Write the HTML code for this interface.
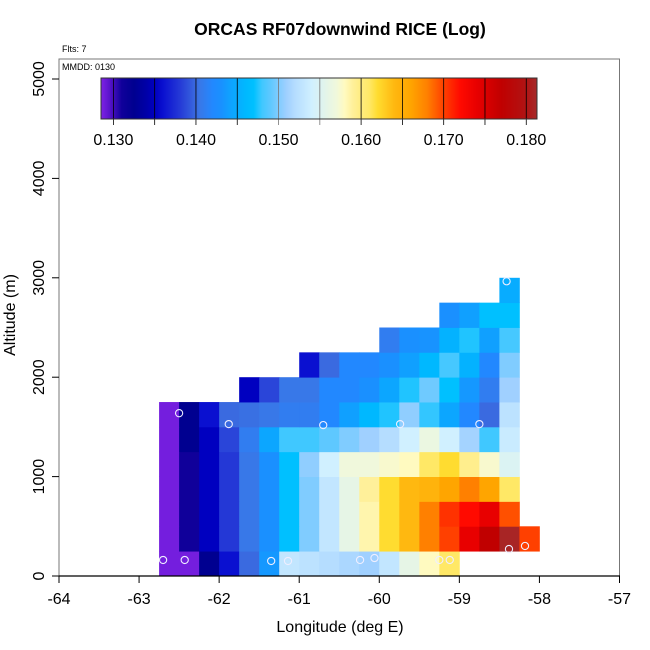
<!DOCTYPE html>
<html><head><meta charset="utf-8"><style>
html,body{margin:0;padding:0;background:#fff;}
svg{display:block;font-family:"Liberation Sans",sans-serif;}
</style></head><body>
<svg id="chart" width="650" height="650" viewBox="0 0 650 650" xmlns="http://www.w3.org/2000/svg">
<rect x="0" y="0" width="650" height="650" fill="#fff"/>
<text x="340" y="35" text-anchor="middle" font-size="17.5" font-weight="bold">ORCAS RF07downwind RICE (Log)</text>
<text x="62" y="52" font-size="9">Flts: 7</text>
<g id="cells"></g>
<g id="pts"></g>
<rect x="59" y="59" width="560.5" height="517" fill="none" stroke="#777" stroke-width="1"/>
<line x1="59" y1="576" x2="620" y2="576" stroke="#000" stroke-width="1.2"/>
<text x="62" y="70" font-size="9">MMDD: 0130</text>
<g id="cbar"></g>
<g id="xaxis"></g>
<g id="yaxis"></g>
<text x="340" y="632" text-anchor="middle" font-size="16">Longitude (deg E)</text>
<text transform="translate(15,315) rotate(-90)" text-anchor="middle" font-size="16">Altitude (m)</text>
</svg>
<script>
const lonStart = -62.75, lonStep = 0.25, altStep = 250;
const row0 = [0.1288,0.1288,0.1325,0.136,0.140,0.1435,0.153,0.1525,0.152,0.1515,0.151,0.153,0.156,0.158,0.161,null,null,null,null];
const row1 = [0.1288,0.131,0.135,0.138,0.1405,0.143,0.147,0.150,0.153,0.156,0.1585,0.162,0.164,0.168,0.170,0.174,0.177,0.181,0.170];
const row2 = [0.1288,0.131,0.135,0.138,0.1405,0.143,0.147,0.150,0.153,0.156,0.1585,0.162,0.164,0.168,0.1705,0.172,0.174,0.1695,null];
const row3 = [0.1288,0.131,0.135,0.138,0.1405,0.143,0.147,0.150,0.153,0.156,0.159,0.162,0.164,0.1645,0.166,0.168,0.166,0.161,null];
const row4 = [0.1288,0.131,0.135,0.138,0.1405,0.143,0.147,0.1505,0.154,0.157,0.157,0.1575,0.158,0.161,0.162,0.1595,0.1575,0.155,null];
const row5 = [0.1288,0.1325,0.135,0.1385,0.141,0.1445,0.148,0.148,0.149,0.150,0.151,0.152,0.154,0.1565,0.154,0.1512,0.148,0.1535,null];
const row6 = [0.1288,0.1325,0.136,0.140,0.1402,0.1405,0.141,0.141,0.142,0.144,0.146,0.1475,0.1505,0.1478,0.1445,0.142,0.140,0.1525,null];
const row7 = [null,null,null,null,0.135,0.1385,0.1405,0.1405,0.142,0.142,0.143,0.1445,0.1475,0.1495,0.147,0.1435,0.141,0.151,null];
const row8 = [null,null,null,null,null,null,null,0.136,0.140,0.142,0.142,0.143,0.144,0.146,0.1482,0.1455,0.142,0.150,null];
const row9 = [null,null,null,null,null,null,null,null,null,null,null,0.141,0.143,0.1432,0.1455,0.1475,0.144,0.1482,null];
const row10 = [null,null,null,null,null,null,null,null,null,null,null,null,null,null,0.143,0.144,0.147,0.147,null];
const row11 = [null,null,null,null,null,null,null,null,null,null,null,null,null,null,null,null,null,0.145,null];
const rows = [row0,row1,row2,row3,row4,row5,row6,row7,row8,row9,row10,row11];
const ptLon = [-62.70,-62.43,-62.50,-61.88,-61.35,-61.14,-60.70,-60.24,-60.06,-59.74,-59.25,-59.12,-58.75,-58.41,-58.38,-58.18];
const ptAlt = [161,161,1638,1528,151,151,1518,161,181,1528,161,161,1528,2965,271,302];
const xTicks = [-64,-63,-62,-61,-60,-59,-58,-57];
const yTicks = [0,1000,2000,3000,4000,5000];
const cbTicks = [0.130,0.140,0.150,0.160,0.170,0.180];
const cbLabels = ["0.130","0.140","0.150","0.160","0.170","0.180"];
const cbLines = [0.130,0.135,0.140,0.145,0.150,0.155,0.160,0.165,0.170,0.175,0.180];
const cbMin = 0.1285, cbMax = 0.1813;
const stopV = [0.1285,0.1295,0.131,0.1325,0.134,0.135,0.136,0.138,0.140,0.1405,0.142,0.143,0.144,0.146,0.147,0.148,0.149,0.150,0.151,0.152,0.153,0.154,0.156,0.157,0.158,0.159,0.161,0.162,0.164,0.166,0.168,0.170,0.172,0.174,0.177,0.180,0.1813];
const stopC = ["#7f22e6","#5b14cc","#10009a","#000090","#0000a8","#0000c0","#0a10d0","#2438d6","#3a6ae0","#3878e8","#2288ff","#1a90ff","#10a0ff","#00b8ff","#00c0ff","#40c8ff","#5ec8ff","#80ccff","#a0d0ff","#b5ddff","#c2e6ff","#d0f0ff","#e6f5e6","#f0f8dc","#fffac0","#fff09a","#ffe866","#ffdc30","#ffb810","#ffa500","#ff8000","#ff4000","#ff0a00","#e80000","#c00000","#b01414","#a52a2a"];
function hex(c){return [1,3,5].map(i=>parseInt(c.substr(i,2),16));}
function color(v){
  if(v<=stopV[0]) return stopC[0];
  for(let i=1;i<stopV.length;i++){
    if(v<=stopV[i]){
      const t=(v-stopV[i-1])/(stopV[i]-stopV[i-1]);
      const a=hex(stopC[i-1]),b=hex(stopC[i]);
      return 'rgb('+a.map((x,k)=>Math.round(x+(b[k]-x)*t)).join(',')+')';
    }
  }
  return stopC[stopC.length-1];
}
const NS='http://www.w3.org/2000/svg';
function el(tag,attrs,parent){const e=document.createElementNS(NS,tag);for(const k in attrs)e.setAttribute(k,attrs[k]);parent.appendChild(e);return e;}
const xS = lon => 59 + (lon + 64) * 80.07;
const yS = alt => 576 - alt * 0.0994;
const cS = v => 101 + (v - cbMin) / (cbMax - cbMin) * 436;

const cells=document.getElementById('cells');
rows.forEach((row,r)=>{row.forEach((v,c)=>{
  if(v===null) return;
  const x0=xS(lonStart+c*lonStep), x1=xS(lonStart+(c+1)*lonStep);
  const y1=yS(r*altStep), y0=yS((r+1)*altStep);
  const e=el('rect',{x:x0,y:y0,width:x1-x0+0.4,height:y1-y0+0.4,fill:color(v)},cells);
  
  
});});

const pts=document.getElementById('pts');
ptLon.forEach((lon,i)=>{
  const e=el('circle',{cx:xS(lon),cy:yS(ptAlt[i]),r:3.6,fill:'none',stroke:'#eeeeff','stroke-width':1.1},pts);
  
  
});

const cb=document.getElementById('cbar');
for(let i=0;i<436;i++){
  const v=cbMin+(i+0.5)/436*(cbMax-cbMin);
  el('rect',{x:101+i,y:78,width:1.2,height:41,fill:color(v)},cb);
}
cbLines.forEach(v=>{
  const g=(v===0.150||v===0.155)?'#777':'#000';
  const e=el('line',{x1:cS(v),y1:78,x2:cS(v),y2:125,stroke:g,'stroke-width':0.8},cb);
  
  
});
el('rect',{x:101,y:78,width:436,height:41,fill:'none',stroke:'#333','stroke-width':1},cb);
cbTicks.forEach((v,i)=>{
  const t=el('text',{x:cS(v),y:145,'text-anchor':'middle','font-size':16},cb);
  t.textContent=cbLabels[i];
  
  
});

const xa=document.getElementById('xaxis');
xTicks.forEach(v=>{
  const l=el('line',{x1:xS(v),y1:576,x2:xS(v),y2:583,stroke:'#000','stroke-width':1},xa);
  
  
  const t=el('text',{x:xS(v),y:604,'text-anchor':'middle','font-size':16},xa);
  t.textContent=String(v);
  
  
});
const ya=document.getElementById('yaxis');
yTicks.forEach(v=>{
  const l=el('line',{x1:52,y1:yS(v),x2:59,y2:yS(v),stroke:'#000','stroke-width':1},ya);
  
  
  const t=el('text',{transform:'translate(44,'+yS(v)+') rotate(-90)','text-anchor':'middle','font-size':16},ya);
  t.textContent=String(v);
  
  
});
</script>
</body></html>
